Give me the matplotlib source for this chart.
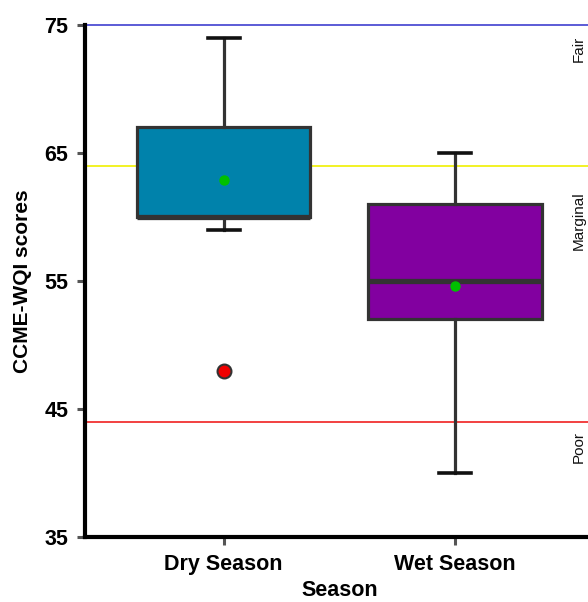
import matplotlib.pyplot as plt

plt.rcParams['font.family'] = ['Liberation Sans', 'DejaVu Sans']

# CCME-WQI box summaries per season
seasons = ['Dry Season', 'Wet Season']
q1 = [60, 52]
med = [60, 55]
q3 = [67, 61]
whislo = [59, 40]
whishi = [74, 65]
means = [62.9, 54.6]
outliers = [[48], []]
colors = ['#0082AB', '#8200A0']

# quality class limits and labels
limits = [75, 64, 44]
limit_colors = ['#4040D0', '#F0F000', '#F02020']
classes = ['Fair', 'Marginal', 'Poor']
class_y = [73.1, 59.7, 42.0]

fig = plt.figure(figsize=(5.88, 6.02), dpi=100)
ax = fig.add_axes([0.1446, 0.108, 0.865, 0.8505])

stats = []
for i in range(len(seasons)):
    stats.append({'label': seasons[i], 'q1': q1[i], 'med': med[i], 'q3': q3[i],
                  'whislo': whislo[i], 'whishi': whishi[i], 'mean': means[i],
                  'fliers': outliers[i]})

bp = ax.bxp(stats, positions=[0, 1], widths=0.75, patch_artist=True,
            showmeans=True, capwidths=0.14,
            boxprops=dict(edgecolor='#333333', linewidth=2.3),
            medianprops=dict(color='#333333', linewidth=3.8),
            whiskerprops=dict(color='#333333', linewidth=2.3),
            capprops=dict(color='#111111', linewidth=2.6),
            meanprops=dict(marker='o', markerfacecolor='#00C000',
                           markeredgecolor='#00C000', markersize=6.5),
            flierprops=dict(marker='o', markerfacecolor='#F00000',
                            markeredgecolor='#333333', markeredgewidth=1.5,
                            markersize=10))
for box, c in zip(bp['boxes'], colors):
    box.set_facecolor(c)

for lim, c in zip(limits, limit_colors):
    ax.axhline(lim, color=c, linewidth=1.2, zorder=1, clip_on=False)

for name, y in zip(classes, class_y):
    ax.text(1.535, y, name, rotation=90, ha='center', va='center',
            fontsize=11, color='#111111')

ax.set_xlim(-0.6, 1.6)
ax.set_ylim(35, 75)
ax.set_yticks([35, 45, 55, 65, 75])
ax.set_xticks([0, 1])
ax.set_xticklabels(seasons)

ax.spines['top'].set_visible(False)
ax.spines['right'].set_visible(False)
ax.spines['left'].set_linewidth(3)
ax.spines['bottom'].set_linewidth(3)
ax.tick_params(axis='both', length=6, width=2.2, color='#555555',
               labelsize=15.5, pad=6)
for lbl in ax.get_xticklabels() + ax.get_yticklabels():
    lbl.set_fontweight('bold')

ax.set_xlabel('Season', fontsize=15.5, fontweight='bold', labelpad=4)
ax.set_ylabel('CCME-WQI scores', fontsize=15, fontweight='bold', labelpad=9)

fig.savefig('out.png', dpi=100)
